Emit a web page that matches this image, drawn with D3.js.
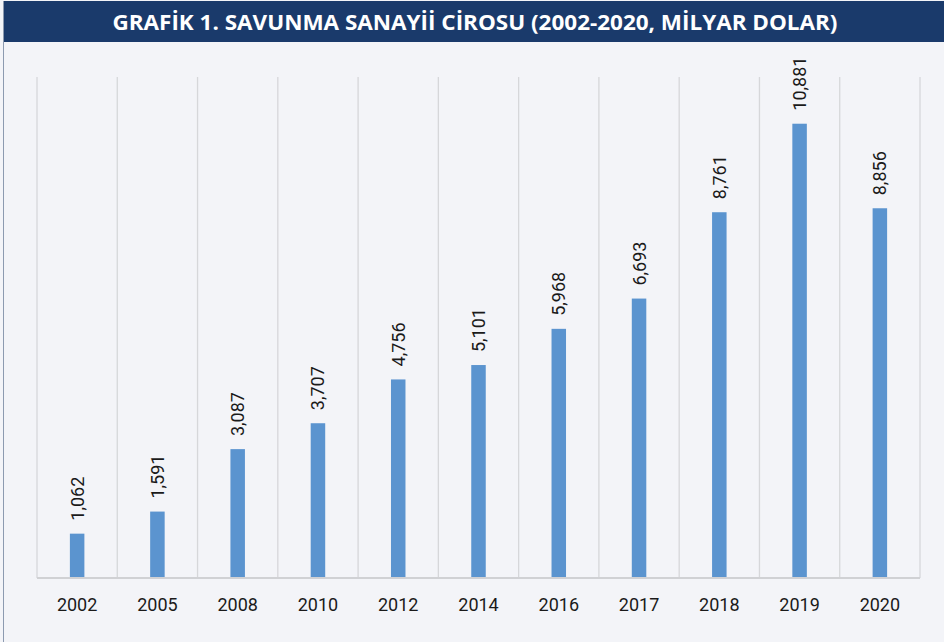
<!DOCTYPE html>
<meta charset="utf-8">
<script src="https://d3js.org/d3.v7.min.js"></script>
<style>
  body { margin: 0; background: #f3f4f8; }
</style>
<div id="chart"></div>
<script>
  // Data (values in thousand million USD)
  const years = ["2002", "2005", "2008", "2010", "2012", "2014", "2016", "2017", "2018", "2019", "2020"];
  const values = [1.062, 1.591, 3.087, 3.707, 4.756, 5.101, 5.968, 6.693, 8.761, 10.881, 8.856];
  const labels = ["1,062", "1,591", "3,087", "3,707", "4,756", "5,101", "5,968", "6,693", "8,761", "10,881", "8,856"];
  const title = "GRAFİK 1. SAVUNMA SANAYİİ CİROSU (2002-2020, MİLYAR DOLAR)";

  const width = 944, height = 642;

  const svg = d3.select("#chart")
    .append("svg")
      .attr("width", width)
      .attr("height", height);

  svg.append("rect")
    .attr("width", width)
    .attr("height", height)
    .attr("fill", "#f3f4f8");

  // Title bar
  svg.append("rect")
    .attr("x", 3).attr("y", 1)
    .attr("width", width - 3).attr("height", 41)
    .attr("fill", "#1a3a6b");

  svg.append("text")
    .attr("x", 475).attr("y", 30)
    .attr("text-anchor", "middle")
    .attr("fill", "#ffffff")
    .attr("textLength", 725)
    .attr("lengthAdjust", "spacingAndGlyphs")
    .style("font-family", "'Open Sans', sans-serif")
    .style("font-weight", "bold")
    .style("font-size", "21px")
    .text(title);

  // left border line
  svg.append("line")
    .attr("x1", 3.5).attr("x2", 3.5)
    .attr("y1", 1).attr("y2", height)
    .attr("stroke", "#8c9ab0")
    .attr("stroke-width", 1);

  // Scales
  const x = d3.scaleBand()
    .domain(years)
    .range([37, 920])
    .paddingInner(0)
    .paddingOuter(0);

  const y = d3.scaleLinear()
    .domain([0, 12])
    .range([578, 77]);

  // Vertical grid lines at category boundaries
  const bounds = years.map(d => x(d)).concat([x.range()[1]]);
  svg.selectAll(".grid")
    .data(bounds)
    .enter()
    .append("line")
      .attr("x1", d => d).attr("x2", d => d)
      .attr("y1", y(12)).attr("y2", y(0))
      .attr("stroke", "#d6d7da")
      .attr("stroke-width", 1.3);

  // Bars
  const barW = 14.5;
  svg.selectAll(".bar")
    .data(values)
    .enter()
    .append("rect")
      .attr("x", (d, i) => x(years[i]) + x.bandwidth() / 2 - barW / 2)
      .attr("y", d => y(d))
      .attr("width", barW)
      .attr("height", d => y(0) - y(d))
      .attr("fill", "#5b94cf");

  // x axis line
  svg.append("line")
    .attr("x1", x.range()[0]).attr("x2", x.range()[1])
    .attr("y1", y(0)).attr("y2", y(0))
    .attr("stroke", "#d0d1d4")
    .attr("stroke-width", 2);

  // Category labels
  svg.selectAll(".year")
    .data(years)
    .enter()
    .append("text")
      .attr("x", d => x(d) + x.bandwidth() / 2)
      .attr("y", 611)
      .attr("text-anchor", "middle")
      .attr("fill", "#1a1a1a")
      .style("font-family", "Roboto, sans-serif")
      .style("font-size", "18px")
      .text(d => d);

  // Rotated value labels
  svg.selectAll(".val")
    .data(values)
    .enter()
    .append("text")
      .attr("transform", (d, i) =>
        `translate(${x(years[i]) + x.bandwidth() / 2}, ${y(d) - 13}) rotate(-90)`)
      .attr("dy", "0.36em")
      .attr("text-anchor", "start")
      .attr("fill", "#1a1a1a")
      .style("font-family", "Roboto, sans-serif")
      .style("font-size", "18px")
      .text((d, i) => labels[i]);
</script>
